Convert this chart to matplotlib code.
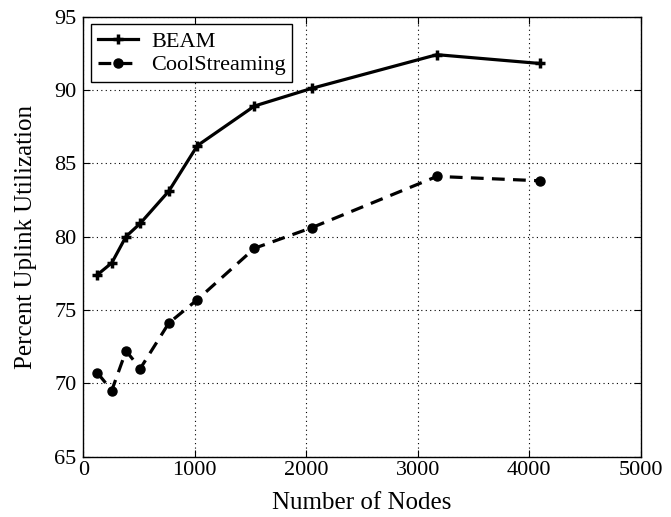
import matplotlib
matplotlib.use('Agg')
from matplotlib import pyplot as plt

plt.rcParams['font.family'] = ['Liberation Serif', 'DejaVu Serif']

# network sizes and uplink utilization (%)
nodes = [128, 256, 384, 512, 768, 1024, 1536, 2048, 3172, 4096]
beam = [77.4, 78.2, 80.0, 80.9, 83.1, 86.2, 88.9, 90.1, 92.4, 91.8]
cool = [70.7, 69.5, 72.2, 71.0, 74.1, 75.7, 79.2, 80.6, 84.1, 83.8]

fig = plt.figure(figsize=(6.71, 5.17), dpi=100)
ax = fig.add_axes([0.124, 0.117, 0.831, 0.851])

ax.plot(nodes, beam, color='black', linewidth=2.3, linestyle='-',
        marker='+', markersize=7, markeredgewidth=2.5, label='BEAM')
ax.plot(nodes, cool, color='black', linewidth=2.3, linestyle=(0, (4, 2.6)),
        marker='o', markersize=6.5, label='CoolStreaming')

ax.set_xlim(0, 5000)
ax.set_ylim(65, 95)
ax.set_xticks([0, 1000, 2000, 3000, 4000, 5000])
ax.set_yticks([65, 70, 75, 80, 85, 90, 95])
ax.tick_params(direction='in', labelsize=16, length=5, top=True, right=True,
               labeltop=False, labelright=False)
ax.tick_params(axis='y', pad=5)
ax.grid(True, color='black', linestyle=(0, (1, 3)), linewidth=0.8)
for s in ax.spines.values():
    s.set_linewidth(1.0)

ax.set_xlabel('Number of Nodes', fontsize=18)
ax.set_ylabel('Percent Uplink Utilization', fontsize=18)
ax.xaxis.set_label_coords(0.5, -0.08)
ax.yaxis.set_label_coords(-0.082, 0.5)

leg = ax.legend(loc='upper left', fontsize=16, fancybox=False, framealpha=1,
                edgecolor='black', borderaxespad=0.35, handlelength=1.8,
                borderpad=0.3, labelspacing=0.15, handletextpad=0.6)
leg.get_frame().set_linewidth(1.0)

fig.savefig('out.png', dpi=100)
